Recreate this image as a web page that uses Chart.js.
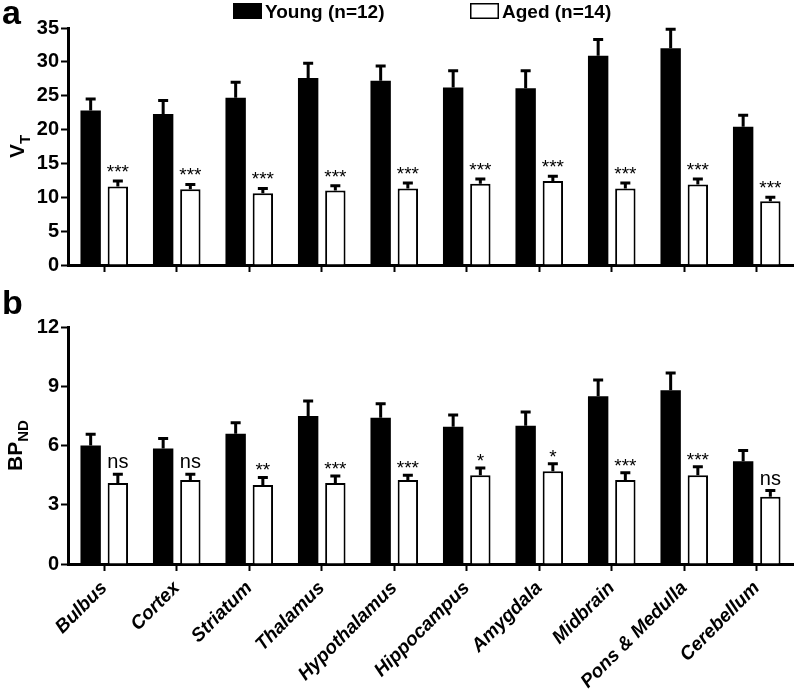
<!DOCTYPE html>
<html>
<head>
<meta charset="utf-8">
<script src="https://cdn.jsdelivr.net/npm/chart.js@4.4.0/dist/chart.umd.min.js"></script>
<style>
  body { margin: 0; background: #fff; width: 799px; height: 693px; position: relative; overflow: hidden; }
  #wrapA { position: absolute; left: 0; top: 0; width: 799px; height: 290px; }
  #wrapB { position: absolute; left: 0; top: 290px; width: 799px; height: 403px; }
</style>
</head>
<body>
<div id="wrapA"><canvas id="chartA"></canvas></div>
<div id="wrapB"><canvas id="chartB"></canvas></div>
<script>
const regions = ["Bulbus", "Cortex", "Striatum", "Thalamus", "Hypothalamus", "Hippocampus", "Amygdala", "Midbrain", "Pons & Medulla", "Cerebellum"];

// panel a: VT (mean, SEM)
const vtYoung    = [22.8, 22.3, 24.7, 27.6, 27.2, 26.2, 26.1, 30.9, 32.0, 20.4];
const vtYoungErr = [1.7, 2.0, 2.3, 2.2, 2.2, 2.5, 2.6, 2.4, 2.8, 1.7];
const vtAged     = [11.6, 11.2, 10.6, 11.0, 11.3, 12.0, 12.4, 11.3, 11.9, 9.4];
const vtAgedErr  = [0.8, 0.7, 0.7, 0.7, 0.8, 0.7, 0.7, 0.8, 0.8, 0.6];
const vtSig      = ["***", "***", "***", "***", "***", "***", "***", "***", "***", "***"];

// panel b: BPND (mean, SEM)
const bpYoung    = [6.0, 5.85, 6.6, 7.5, 7.4, 6.95, 7.0, 8.5, 8.8, 5.2];
const bpYoungErr = [0.57, 0.5, 0.55, 0.75, 0.72, 0.6, 0.7, 0.82, 0.87, 0.55];
const bpAged     = [4.1, 4.25, 4.0, 4.1, 4.25, 4.5, 4.7, 4.25, 4.5, 3.4];
const bpAgedErr  = [0.45, 0.3, 0.38, 0.35, 0.25, 0.36, 0.37, 0.37, 0.42, 0.32];
const bpSig      = ["ns", "ns", "**", "***", "***", "*", "*", "***", "***", "ns"];

const FONT = "'Liberation Sans', Arial, sans-serif";

// upper error bars + significance marks above the aged bars
const errorBars = {
  id: "errorBars",
  afterDatasetsDraw(chart, args, opts) {
    const ctx = chart.ctx;
    const y = chart.scales.y;
    ctx.save();
    ctx.strokeStyle = "#000";
    ctx.fillStyle = "#000";
    ctx.lineWidth = 3;
    chart.data.datasets.forEach((ds, di) => {
      const meta = chart.getDatasetMeta(di);
      meta.data.forEach((bar, i) => {
        const top = y.getPixelForValue(ds.data[i] + ds.errors[i]);
        const base = y.getPixelForValue(ds.data[i]);
        ctx.beginPath();
        ctx.moveTo(bar.x, base);
        ctx.lineTo(bar.x, top);
        ctx.moveTo(bar.x - 5, top);
        ctx.lineTo(bar.x + 5, top);
        ctx.stroke();
        if (ds.sig) {
          const s = ds.sig[i];
          ctx.textAlign = "center";
          ctx.textBaseline = "alphabetic";
          if (s === "ns") {
            ctx.font = "20px " + FONT;
            ctx.fillText(s, bar.x, top - 6);
          } else {
            ctx.font = "19px " + FONT;
            ctx.fillText(s, bar.x, top + 3 - opts.starGap);
          }
        }
      });
    });
    ctx.restore();
  }
};

// panel letter, legend and axis title with subscript
const panelText = {
  id: "panelText",
  afterDraw(chart, args, opts) {
    const ctx = chart.ctx;
    const area = chart.chartArea;
    ctx.save();
    ctx.fillStyle = "#000";
    ctx.font = "bold 34px " + FONT;
    ctx.textAlign = "left";
    ctx.textBaseline = "alphabetic";
    ctx.fillText(opts.letter, opts.letterX, opts.letterY);

    if (opts.legendX) {
      ctx.font = "bold 19px " + FONT;
      chart.data.datasets.forEach((ds, i) => {
        const lx = opts.legendX[i];
        ctx.fillStyle = ds.backgroundColor;
        ctx.fillRect(lx, 3, 29, 16);
        ctx.strokeStyle = ds.borderColor;
        ctx.lineWidth = 1.5;
        ctx.strokeRect(lx + 0.75, 3.75, 27.5, 14.5);
        ctx.fillStyle = "#000";
        ctx.fillText(ds.label, lx + 32, 18);
      });
    }

    ctx.translate(opts.titleX, (area.top + area.bottom) / 2 + opts.titleShift);
    ctx.rotate(-Math.PI / 2);
    ctx.font = "bold 21px " + FONT;
    const w1 = ctx.measureText(opts.main).width;
    ctx.font = "bold 15px " + FONT;
    const w2 = ctx.measureText(opts.sub).width;
    const x = -(w1 + w2) / 2;
    ctx.fillStyle = "#000";
    ctx.font = "bold 21px " + FONT;
    ctx.fillText(opts.main, x, 0);
    ctx.font = "bold 15px " + FONT;
    ctx.fillText(opts.sub, x + w1, 6);
    ctx.restore();
  }
};

function makeChart(id, young, youngErr, aged, agedErr, sig, yMax, yStep, panel) {
  return new Chart(document.getElementById(id), {
    type: "bar",
    data: {
      labels: regions,
      datasets: [
        { label: "Young (n=12)", data: young, errors: youngErr, backgroundColor: "#000", borderColor: "#000", borderWidth: 0,
          categoryPercentage: 0.75, barPercentage: 0.75 },
        { label: "Aged (n=14)", data: aged, errors: agedErr, sig: sig, backgroundColor: "#fff", borderColor: "#000", borderWidth: 2,
          categoryPercentage: 0.75, barPercentage: 0.75 }
      ]
    },
    options: {
      responsive: true,
      maintainAspectRatio: false,
      animation: false,
      layout: { padding: { top: panel.padTop, right: 6, left: 0, bottom: 0 } },
      plugins: {
        legend: { display: false },
        tooltip: { enabled: false },
        errorBars: { starGap: panel.starGap },
        panelText: panel
      },
      scales: {
        x: {
          grid: { display: true, drawOnChartArea: false, offset: false, tickLength: 7, tickWidth: 2, tickColor: "#000" },
          border: { display: true, color: "#000", width: 3 },
          ticks: {
            display: panel.xLabels,
            color: "#000",
            padding: 6,
            maxRotation: 45, minRotation: 45,
            font: { family: FONT, size: 19, weight: "bold", style: "italic" }
          },
          afterFit(s) { s.height = panel.xHeight; }
        },
        y: {
          min: 0, max: yMax,
          grid: { display: true, drawOnChartArea: false, tickLength: 7, tickWidth: 2, tickColor: "#000" },
          border: { display: true, color: "#000", width: 3 },
          ticks: { stepSize: yStep, autoSkip: false, maxTicksLimit: 20, color: "#000", padding: 2, font: { family: FONT, size: 20, weight: "bold" } },
          afterFit(s) { s.width = 68; }
        }
      }
    },
    plugins: [errorBars, panelText]
  });
}

makeChart("chartA", vtYoung, vtYoungErr, vtAged, vtAgedErr, vtSig, 35, 5,
  { xLabels: false, xHeight: 25, padTop: 28, starGap: 6, legendX: [233, 470],
    letter: "a", letterX: 2, letterY: 24, main: "V", sub: "T", titleX: 24, titleShift: 0 });

makeChart("chartB", bpYoung, bpYoungErr, bpAged, bpAgedErr, bpSig, 12, 3,
  { xLabels: true, xHeight: 129, padTop: 37, starGap: 4,
    letter: "b", letterX: 2, letterY: 24, main: "BP", sub: "ND", titleX: 22, titleShift: 0 });
</script>
</body>
</html>
